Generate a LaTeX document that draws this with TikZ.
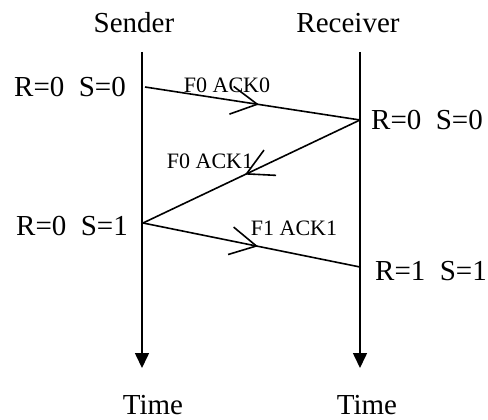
\documentclass[tikz,border=0pt]{standalone}
\usepackage{fontspec}
\setmainfont{Liberation Serif}
\usetikzlibrary{arrows.meta,decorations.markings,positioning}

\begin{document}
\begin{tikzpicture}[x=1pt,y=-1pt,line width=1.6pt,
    big/.style={font=\fontsize{29}{32}\selectfont,inner sep=0pt,anchor=base},
    small/.style={font=\fontsize{22}{24}\selectfont,inner sep=0pt,anchor=base},
    timeline/.style={-{Triangle[length=15pt,width=14pt]}},
    msg/.style={postaction={decorate},decoration={markings,
      mark=at position 0.53 with {\arrow{Straight Barb[length=26pt,width=28pt,line width=1.6pt]}}}}]
    \useasboundingbox (0,0) rectangle (488,420);
    %% time lines
    \coordinate (s0) at (142,52);
    \coordinate (s1) at (142,368);
    \coordinate (r0) at (360,52);
    \coordinate (r1) at (360,368);
    \node (sender) [big] at (134,33) {Sender};
    \node (receiver) [big] at (348,33) {Receiver};
    \node (timeS) [big] at (153,414) {Time};
    \node (timeR) [big] at (367,414) {Time};
    \draw[timeline] (s0) -- (s1);
    \draw[timeline] (r0) -- (r1);
    %% states
    \coordinate (a) at (145,87);
    \coordinate (b) at (360,120);
    \coordinate (c) at (143,223);
    \coordinate (d) at (360,267);
    \node (stA) [big] at (70,97) {R=0\ \ S=0};
    \node (stB) [big] at (427,130) {R=0\ \ S=0};
    \node (stC) [big] at (72,235) {R=0\ \ S=1};
    \node (stD) [big] at (431,280) {R=1\ \ S=1};
    %% frames
    \node (f1) [small] at (227,93) {F0 ACK0};
    \node (f2) [small] at (210,168) {F0 ACK1};
    \node (f3) [small] at (294,235) {F1 ACK1};
    \draw[msg] (a) -- (b);
    \draw[msg] (b) -- (c);
    \draw[msg] (c) -- (d);
\end{tikzpicture}
\end{document}
